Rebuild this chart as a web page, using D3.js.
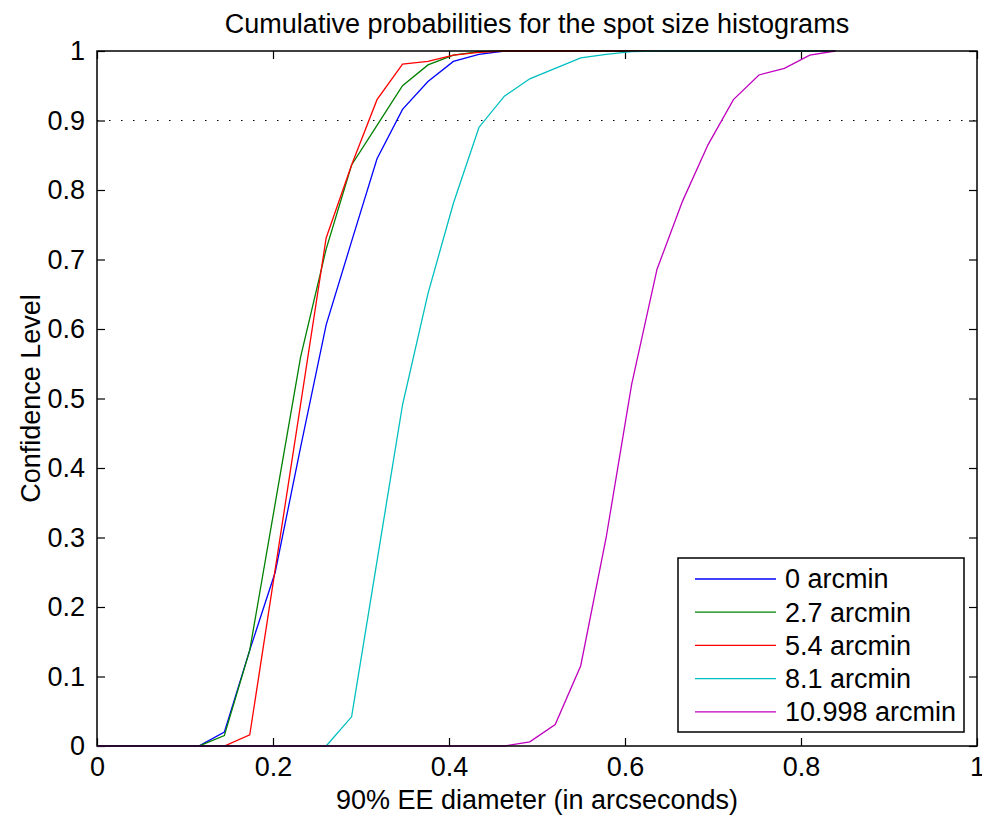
<!DOCTYPE html>
<html>
<head>
<meta charset="utf-8">
<script src="https://cdn.jsdelivr.net/npm/d3@7"></script>
<style>
  body { margin: 0; background: #fff; }
  svg { font-family: "Liberation Sans", Arial, sans-serif; }
</style>
</head>
<body>
<div id="chart"></div>
<script>
// data
var diameters = [0, 0.0289, 0.0579, 0.0868, 0.1157, 0.1447, 0.1736, 0.2025, 0.2314, 0.2604,
                 0.2893, 0.3182, 0.3472, 0.3761, 0.4050, 0.4340, 0.4629, 0.4918, 0.5207, 0.5497,
                 0.5786, 0.6075, 0.6364, 0.6654, 0.6943, 0.7232, 0.7522, 0.7811, 0.8100, 0.8389];

var arcmin0  = [0, 0, 0, 0, 0, 0.020, 0.138, 0.250, 0.430, 0.606,
                0.726, 0.845, 0.916, 0.956, 0.985, 0.995, 1, 1, 1, 1,
                1, 1, 1, 1, 1, 1, 1, 1, 1, 1];
var arcmin27 = [0, 0, 0, 0, 0, 0.015, 0.138, 0.349, 0.560, 0.715,
                0.836, 0.893, 0.950, 0.980, 0.994, 0.999, 1, 1, 1, 1,
                1, 1, 1, 1, 1, 1, 1, 1, 1, 1];
var arcmin54 = [0, 0, 0, 0, 0, 0, 0.016, 0.254, 0.492, 0.731,
                0.836, 0.930, 0.981, 0.985, 0.994, 0.998, 1, 1, 1, 1,
                1, 1, 1, 1, 1, 1, 1, 1, 1, 1];
var arcmin81 = [0, 0, 0, 0, 0, 0, 0, 0, 0, 0,
                0.042, 0.266, 0.491, 0.651, 0.781, 0.890, 0.935, 0.960, 0.975, 0.990,
                0.995, 0.999, 1, 1, 1, 1, 1, 1, 1, 1];
var arcmin11 = [0, 0, 0, 0, 0, 0, 0, 0, 0, 0,
                0, 0, 0, 0, 0, 0, 0, 0.006, 0.031, 0.1155,
                0.300, 0.520, 0.686, 0.784, 0.865, 0.930, 0.9655, 0.975, 0.994, 1];

var seriesNames = ['0 arcmin', '2.7 arcmin', '5.4 arcmin', '8.1 arcmin', '10.998 arcmin'];
var seriesValues = [arcmin0, arcmin27, arcmin54, arcmin81, arcmin11];
var seriesColors = ['#0000ff', '#008000', '#ff0000', '#00bfbf', '#bf00bf'];

var xTicks = [0, 0.2, 0.4, 0.6, 0.8, 1];
var yTicks = [0, 0.1, 0.2, 0.3, 0.4, 0.5, 0.6, 0.7, 0.8, 0.9, 1];
var confidenceLine = 0.9;

// figure geometry
var W = 982, H = 818;
var margin = {top: 51, right: 5, bottom: 72, left: 97},
    width = W - margin.left - margin.right,
    height = H - margin.top - margin.bottom;

var svg = d3.select("#chart")
    .append("svg")
    .attr("width", W)
    .attr("height", H)
    .append("g")
    .attr("transform", "translate(" + margin.left + "," + margin.top + ")");

var x = d3.scaleLinear().domain([0, 1]).range([0, width]);
var y = d3.scaleLinear().domain([0, 1]).range([height, 0]);

var fmt = function(d){ return d3.format("~g")(d); };
var fontSize = "27px";

// axes, ticks pointing inward on all four sides
function styleAxis(g){
    g.select(".domain").remove();
    g.selectAll("line").attr("stroke", "#000").attr("stroke-width", 1.2);
    g.selectAll("text").style("font-size", fontSize).attr("fill", "#000");
}

svg.append("g")
    .attr("transform", "translate(0," + height + ")")
    .call(d3.axisBottom(x).tickValues(xTicks).tickFormat(fmt).tickSizeInner(-8).tickSizeOuter(0).tickPadding(11))
    .call(styleAxis);

svg.append("g")
    .call(d3.axisTop(x).tickValues(xTicks).tickFormat("").tickSizeInner(-8).tickSizeOuter(0))
    .call(styleAxis);

svg.append("g")
    .call(d3.axisLeft(y).tickValues(yTicks).tickFormat(fmt).tickSizeInner(-8).tickSizeOuter(0).tickPadding(12))
    .call(styleAxis);

svg.append("g")
    .attr("transform", "translate(" + width + ",0)")
    .call(d3.axisRight(y).tickValues(yTicks).tickFormat("").tickSizeInner(-8).tickSizeOuter(0))
    .call(styleAxis);

// dotted 90% line
svg.append("line")
    .attr("x1", x(0)).attr("x2", x(1))
    .attr("y1", y(confidenceLine)).attr("y2", y(confidenceLine))
    .attr("stroke", "#000")
    .attr("stroke-width", 1.2)
    .attr("stroke-dasharray", "1.5,10.5");

// curves
var line = d3.line()
    .x(function(d, i){ return x(diameters[i]); })
    .y(function(d){ return y(d); });

svg.selectAll(".curve")
    .data(seriesValues)
    .enter()
    .append("path")
    .attr("class", "curve")
    .attr("d", line)
    .attr("fill", "none")
    .attr("stroke", function(d, i){ return seriesColors[i]; })
    .attr("stroke-width", 1.3);

// axes box
svg.append("rect")
    .attr("x", 0).attr("y", 0)
    .attr("width", width).attr("height", height)
    .attr("fill", "none")
    .attr("stroke", "#000")
    .attr("stroke-width", 1.5);

// titles
svg.append("text")
    .attr("x", width / 2)
    .attr("y", -18)
    .attr("text-anchor", "middle")
    .style("font-size", fontSize)
    .text("Cumulative probabilities for the spot size histograms");

svg.append("text")
    .attr("x", width / 2)
    .attr("y", height + 63)
    .attr("text-anchor", "middle")
    .style("font-size", fontSize)
    .text("90% EE diameter (in arcseconds)");

svg.append("text")
    .attr("transform", "translate(-57," + (height / 2) + ")rotate(-90)")
    .attr("text-anchor", "middle")
    .style("font-size", fontSize)
    .text("Confidence Level");

// legend
var legend = svg.append("g")
    .attr("transform", "translate(" + (678 - margin.left) + "," + (558 - margin.top) + ")");

legend.append("rect")
    .attr("width", 286)
    .attr("height", 174)
    .attr("fill", "#fff")
    .attr("stroke", "#000")
    .attr("stroke-width", 1.5);

legend.selectAll("mylines")
    .data(seriesNames)
    .enter()
    .append("line")
    .attr("x1", 17).attr("x2", 98)
    .attr("y1", function(d, i){ return 21 + i * 33.2; })
    .attr("y2", function(d, i){ return 21 + i * 33.2; })
    .attr("stroke", function(d, i){ return seriesColors[i]; })
    .attr("stroke-width", 1.3);

legend.selectAll("mylabels")
    .data(seriesNames)
    .enter()
    .append("text")
    .attr("x", 107)
    .attr("y", function(d, i){ return 21 + i * 33.2; })
    .attr("dy", "0.35em")
    .style("font-size", fontSize)
    .text(function(d){ return d; });
</script>
</body>
</html>
